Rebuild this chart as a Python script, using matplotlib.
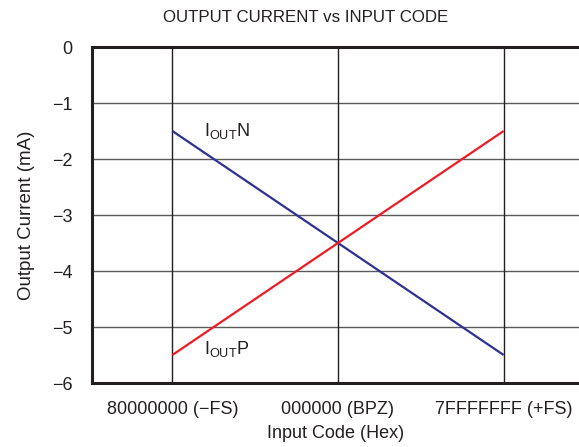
import matplotlib
matplotlib.use("Agg")
import matplotlib.pyplot as plt

plt.rcParams['font.family'] = ['Liberation Sans', 'DejaVu Sans']

codes = ['80000000 (\u2212FS)', '000000 (BPZ)', '7FFFFFFF (+FS)']
iout_n = [-1.5, -3.5, -5.5]
iout_p = [-5.5, -3.5, -1.5]
y_ticks = [0, -1, -2, -3, -4, -5, -6]

fig = plt.figure(figsize=(5.79, 4.47), dpi=100)
ax = fig.add_axes([92 / 579, 1 - 383 / 447, 1 - 92 / 579, (383 - 47) / 447])

x = list(range(len(codes)))
ax.plot(x, iout_n, color='#2e3192', lw=1.6, solid_capstyle='butt', zorder=3)
ax.plot(x, iout_p, color='#ed1c24', lw=1.6, solid_capstyle='butt', zorder=3)

ax.set_xlim(-0.485, 2.455)
ax.set_ylim(-6, 0)
ax.set_xticks(x)
ax.set_xticklabels(codes, fontsize=13, color='#231f20')
ax.set_yticks(y_ticks)
ax.set_yticklabels(['0' if v == 0 else '\u2212%d' % -v for v in y_ticks],
                   fontsize=13, color='#231f20')
ax.tick_params(length=0)
ax.tick_params(axis='y', pad=14)
ax.tick_params(axis='x', pad=13)

for v in y_ticks[1:-1]:
    ax.axhline(v, color='#5a5a5a', lw=1.0, zorder=1)
for v in x:
    ax.axvline(v, color='#231f20', lw=1.0, zorder=1)

for side in ['top', 'left', 'bottom']:
    ax.spines[side].set_linewidth(2.2)
    ax.spines[side].set_color('#231f20')
ax.spines['right'].set_visible(False)

ax.text(0.19, -1.5, r'I$_{\mathregular{OUT}}$N', fontsize=13, color='#231f20',
        va='center', ha='left')
ax.text(0.19, -5.4, r'I$_{\mathregular{OUT}}$P', fontsize=13, color='#231f20',
        va='center', ha='left')

ax.set_xlabel('Input Code (Hex)', fontsize=13, color='#231f20', labelpad=5)
ax.set_ylabel('Output Current (mA)', fontsize=13.5, color='#231f20', labelpad=12)
fig.text(306 / 579, 1 - 18 / 447, 'OUTPUT CURRENT vs INPUT CODE', fontsize=12.2,
         color='#231f20', ha='center', va='center')

fig.savefig('out.png', dpi=100)
